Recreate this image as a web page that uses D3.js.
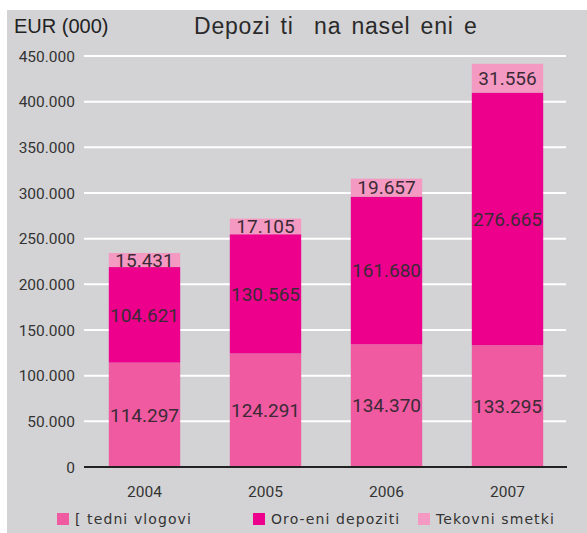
<!DOCTYPE html>
<html><head><meta charset="utf-8">
<script src="https://cdn.jsdelivr.net/npm/d3@7"></script>
<style>body{margin:0;background:#fff}svg{display:block}text{white-space:pre}</style>
</head><body>
<script>
const years = ["2004","2005","2006","2007"];
const seriesNames = ["[ tedni vlogovi","Oro-eni depoziti","Tekovni smetki"];
const stedni = [114297,124291,134370,133295];
const oroceni = [104621,130565,161680,276665];
const tekovni = [15431,17105,19657,31556];
const yTicks = [0,50000,100000,150000,200000,250000,300000,350000,400000,450000];
const colors = ["#ef5aa0","#ec008c","#f49ac2"];

const W=587,H=533;
const svg=d3.select("body").append("svg").attr("width",W).attr("height",H);
svg.append("rect").attr("x",7).attr("y",10).attr("width",W-7).attr("height",H-10).attr("fill","#d3d3d5");

const loc=d3.formatLocale({decimal:",",thousands:".",grouping:[3],currency:["",""]});
const fmt=loc.format(",");

const x=d3.scaleBand().domain(years).range([84,568]).paddingInner(0.41).paddingOuter(0.205);
const y=d3.scaleLinear().domain([0,450000]).range([467,56]);

// grid
svg.append("g").selectAll("line").data(yTicks.filter(d=>d>0)).join("line")
 .attr("x1",84).attr("x2",566).attr("y1",d=>y(d)).attr("y2",d=>y(d))
 .attr("stroke","#fff").attr("stroke-width",2);

const rows=years.map((yr,i)=>({year:yr,s0:stedni[i],s1:oroceni[i],s2:tekovni[i]}));
const stack=d3.stack().keys(["s0","s1","s2"])(rows);

const g=svg.append("g");
stack.forEach((layer,li)=>{
  g.append("g").selectAll("rect").data(layer).join("rect")
   .attr("x",d=>x(d.data.year)).attr("width",x.bandwidth())
   .attr("y",d=>y(d[1])).attr("height",d=>y(d[0])-y(d[1]))
   .attr("fill",colors[li]);
});
stack.forEach((layer,li)=>{
  g.append("g").selectAll("text").data(layer).join("text")
   .attr("x",d=>x(d.data.year)+x.bandwidth()/2)
   .attr("y",d=>(y(d[0])+y(d[1]))/2)
   .attr("dy","0.36em").attr("text-anchor","middle")
   .attr("font-family","Roboto, sans-serif").attr("font-size",19)
   .attr("fill","#3b2a36")
   .text(d=>fmt(d[1]-d[0]));
});

// axis line
svg.append("line").attr("x1",84).attr("x2",567).attr("y1",y(0)).attr("y2",y(0)).attr("stroke","#222").attr("stroke-width",2);

// y tick labels
svg.append("g").selectAll("text").data(yTicks).join("text")
 .attr("x",75).attr("y",d=>y(d)).attr("dy","0.36em").attr("text-anchor","end")
 .attr("font-family","Roboto, sans-serif").attr("font-size",15.5).attr("fill","#333")
 .text(d=>fmt(d));

// x labels
svg.append("g").selectAll("text").data(years).join("text")
 .attr("x",d=>x(d)+x.bandwidth()/2).attr("y",491).attr("dy","0.36em").attr("text-anchor","middle")
 .attr("font-family","Roboto, sans-serif").attr("font-size",15.5).attr("fill","#333")
 .text(d=>d);

// title
svg.append("text").attr("x",14).attr("y",26).attr("dy","0.36em")
 .attr("font-family","Liberation Sans, Arial, sans-serif").attr("font-size",20).attr("fill","#222").text("EUR (000)");
svg.append("text").attr("x",194).attr("y",26).attr("dy","0.36em")
 .attr("font-family","Liberation Sans, Arial, sans-serif").attr("font-size",23).attr("letter-spacing",0.8).attr("word-spacing",3).attr("fill","#2a2a2a")
 .text("Depozi ti  na nasel eni e");

// legend
const legX=[57,253,418];
const lg=svg.append("g");
seriesNames.forEach((n,i)=>{
  lg.append("rect").attr("x",legX[i]).attr("y",513).attr("width",12).attr("height",12).attr("fill",colors[i]);
  lg.append("text").attr("x",legX[i]+18).attr("y",519).attr("dy","0.36em")
   .attr("font-family","DejaVu Sans, sans-serif").attr("font-size",14).attr("letter-spacing",1.1).attr("fill","#333")
   .text(n);
});
</script>
</body></html>
